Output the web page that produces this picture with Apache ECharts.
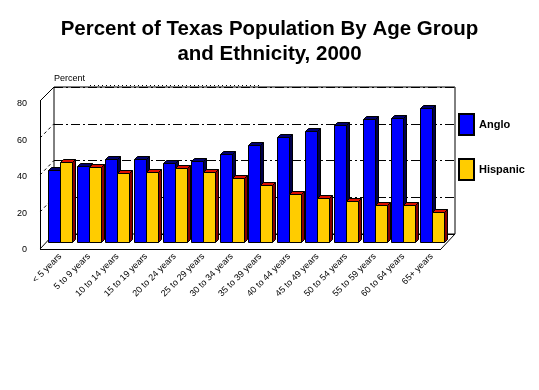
<!DOCTYPE html>
<html>
<head>
<meta charset="utf-8">
<script src="https://cdn.jsdelivr.net/npm/echarts@6/dist/echarts.min.js"></script>
<style>
html,body{margin:0;padding:0;background:#fff;}
#c{width:539px;height:390px;}
</style>
</head>
<body>
<div id="c"></div>
<script>
var categories = ["< 5 years","5 to 9 years","10 to 14 years","15 to 19 years","20 to 24 years","25 to 29 years","30 to 34 years","35 to 39 years","40 to 44 years","45 to 49 years","50 to 54 years","55 to 59 years","60 to 64 years","65+ years"];
var anglo = [39.1, 41.2, 44.7, 44.7, 42.8, 44.0, 47.3, 52.7, 57.0, 59.8, 63.0, 66.3, 66.8, 72.3];
var hispanic = [43.5, 40.6, 37.3, 38.0, 40.2, 38.0, 34.8, 30.6, 26.1, 23.7, 22.3, 20.1, 20.1, 16.3];
var yTicks = [0, 20, 40, 60, 80];

var chart = echarts.init(document.getElementById('c'), null, {renderer: 'canvas'});

function bar3d(side, front, topC, sideC) {
  return function (params, api) {
    var i = api.value(0), v = api.value(1);
    var base = api.coord([i, 0]);
    var top = api.coord([i, v]);
    var band = api.size([1, 0])[0];
    var w = Math.round(band * 0.42);
    var cx = Math.round(base[0]);
    var x0 = side < 0 ? cx - w : cx;
    var yb = Math.round(base[1]) + 0.5;
    var yt = Math.round(top[1]) + 0.5;
    x0 += 0.5;
    var d = 3;
    return {
      type: 'group',
      children: [
        {type: 'polygon', shape: {points: [[x0 + w, yt], [x0 + w + d, yt - d], [x0 + w + d, yb - d], [x0 + w, yb]]},
         style: {fill: sideC, stroke: '#000', lineWidth: 1}},
        {type: 'polygon', shape: {points: [[x0, yt], [x0 + d, yt - d], [x0 + w + d, yt - d], [x0 + w, yt]]},
         style: {fill: topC, stroke: '#000', lineWidth: 1}},
        {type: 'rect', shape: {x: x0, y: yt, width: w, height: yb - yt},
         style: {fill: front, stroke: '#000', lineWidth: 1}}
      ]
    };
  };
}

function pts(arr) { return arr.map(function (v, i) { return [i, v]; }); }

// left wall diagonals at grid levels
var diag = [];
yTicks.forEach(function (t) {
  if (t === 0 || t === 80) return;
  var yf = 249 - t * 148 / 80;
  var yb = 234 - t * 147 / 80;
  diag.push({type: 'line', shape: {x1: 40, y1: yf, x2: 54, y2: yb},
    style: {stroke: '#000', lineWidth: 1, lineDash: [3, 3]}, silent: true});
});

var option = {
  backgroundColor: '#fff',
  animation: false,
  title: {
    text: 'Percent of Texas Population By Age Group\nand Ethnicity, 2000',
    left: 'center', top: 12,
    textStyle: {fontFamily: 'Liberation Sans, Arial', fontWeight: 'bold', fontSize: 20.5, color: '#000', lineHeight: 25}
  },
  legend: {
    orient: 'vertical', left: 458, top: 113, padding: 0,
    itemWidth: 15, itemHeight: 21, itemGap: 22,
    icon: 'rect',
    textStyle: {fontFamily: 'Liberation Sans, Arial', fontWeight: 'bold', fontSize: 11, color: '#000'},
    data: ['Anglo', 'Hispanic']
  },
  grid: [
    {left: 46, right: 93, top: 94, bottom: 148},
    {left: 54, right: 84, top: 87, bottom: 156, show: true, borderColor: '#000', borderWidth: 1},
    {left: 40, width: 1, top: 104, bottom: 140}
  ],
  xAxis: [
    {type: 'category', gridIndex: 0, data: categories,
     axisLine: {show: false}, axisTick: {show: false},
     axisLabel: {rotate: 45, interval: 0, fontSize: 9, margin: 13, color: '#000', fontFamily: 'Liberation Sans, Arial'}},
    {type: 'category', gridIndex: 1, data: categories, show: false},
    {type: 'value', gridIndex: 2, show: false}
  ],
  yAxis: [
    {type: 'value', gridIndex: 0, min: 0, max: 80, interval: 20, show: false},
    {type: 'value', gridIndex: 1, min: 0, max: 80, interval: 20,
     name: 'Percent', nameLocation: 'end', nameGap: 4,
     nameTextStyle: {fontSize: 9, color: '#000', align: 'left', fontFamily: 'Liberation Sans, Arial', verticalAlign: 'bottom'},
     axisLine: {show: false}, axisTick: {show: false}, axisLabel: {show: false},
     splitLine: {show: true, lineStyle: {color: '#000', width: 1, type: [9, 3, 2, 3]}}},
    {type: 'value', gridIndex: 2, min: 0, max: 80, interval: 20,
     axisLine: {show: false}, axisTick: {show: false}, splitLine: {show: false},
     axisLabel: {fontSize: 9, color: '#000', margin: 13, fontFamily: 'Liberation Sans, Arial'}}
  ],
  graphic: [
    {type: 'line', shape: {x1: 40.5, y1: 101, x2: 40.5, y2: 249}, style: {stroke: '#000', lineWidth: 1}, silent: true},
    {type: 'line', shape: {x1: 40, y1: 101, x2: 54, y2: 87}, style: {stroke: '#000', lineWidth: 1}, silent: true},
    {type: 'line', shape: {x1: 40, y1: 249, x2: 54, y2: 234}, style: {stroke: '#000', lineWidth: 1}, silent: true},
    {type: 'line', shape: {x1: 40, y1: 249.5, x2: 441, y2: 249.5}, style: {stroke: '#000', lineWidth: 1}, silent: true},
    {type: 'line', shape: {x1: 441, y1: 249, x2: 455, y2: 234}, style: {stroke: '#000', lineWidth: 1}, silent: true},
    {type: 'line', shape: {x1: 90, y1: 85.5, x2: 260, y2: 85.5}, style: {stroke: '#000', lineWidth: 1, lineDash: [1, 3]}, silent: true}
  ].concat(diag),
  series: [
    {name: 'Anglo', type: 'custom', xAxisIndex: 0, yAxisIndex: 0,
     itemStyle: {color: '#0000ff', borderColor: '#000', borderWidth: 1},
     renderItem: bar3d(-1, '#0000ff', '#00006e', '#00004a'),
     encode: {x: 0, y: 1}, data: pts(anglo), z: 3},
    {name: 'Hispanic', type: 'custom', xAxisIndex: 0, yAxisIndex: 0,
     itemStyle: {color: '#ffcc00', borderColor: '#000', borderWidth: 1},
     renderItem: bar3d(1, '#ffcc00', '#dd1100', '#880000'),
     encode: {x: 0, y: 1}, data: pts(hispanic), z: 3}
  ]
};
chart.setOption(option);
</script>
</body>
</html>
